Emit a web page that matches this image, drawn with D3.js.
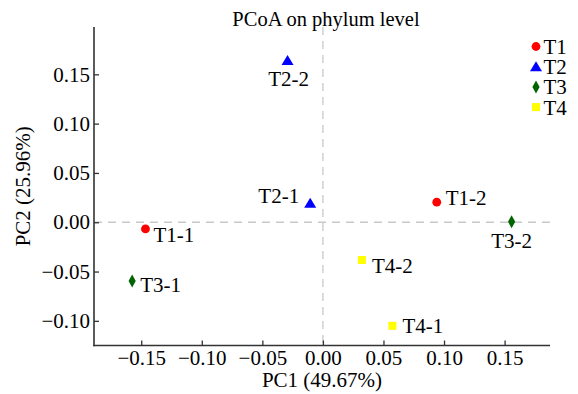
<!DOCTYPE html>
<html><head><meta charset="utf-8">
<script src="https://cdn.jsdelivr.net/npm/d3@7"></script>
<style>body{margin:0;background:#fff}svg{display:block}</style>
</head><body><div id="chart"></div>
<script>
const samples = ["T1-1","T1-2","T2-1","T2-2","T3-1","T3-2","T4-1","T4-2"];
const groupOf = ["T1","T1","T2","T2","T3","T3","T4","T4"];
const pc1 = [-0.1465, 0.094, -0.0105, -0.0292, -0.1575, 0.1558, 0.0574, 0.0322];
const pc2 = [-0.0068, 0.0203, 0.0193, 0.164, -0.0595, 0.0006, -0.105, -0.0383];
const groups = ["T1","T2","T3","T4"];
const groupColors = ["#ff0000","#0000ff","#006400","#ffff00"];
const xTicks = [-0.15,-0.10,-0.05,0.00,0.05,0.10,0.15];
const yTicks = [-0.10,-0.05,0.00,0.05,0.10,0.15];
const xDomain = [-0.189, 0.1875];
const yDomain = [-0.125, 0.198];
const title = "PCoA on phylum level";
const xLabel = "PC1 (49.67%)";
const yLabel = "PC2 (25.96%)";
// label placement relative to point: [dx, dy, anchor]
const labelPos = {
  "T1-1":[8,13,"start"], "T1-2":[9,3,"start"], "T2-1":[-11,0,"end"], "T2-2":[1,25,"middle"],
  "T3-1":[8,11,"start"], "T3-2":[0,26,"middle"], "T4-1":[10,7,"start"], "T4-2":[10,13,"start"]
};

const FONT='"Liberation Serif"';
const W=578,H=394, L=94, R=550, T=27, B=345.5;
const fs=21;
const svg=d3.select("#chart").append("svg").attr("width",W).attr("height",H);
const x=d3.scaleLinear().domain(xDomain).range([L,R]);
const y=d3.scaleLinear().domain(yDomain).range([B,T]);
const color=d3.scaleOrdinal().domain(groups).range(groupColors);
function marker(g,grp){
  const c=color(grp);
  if(grp==="T1") return g.append("circle").attr("r",4.4).attr("fill",c);
  if(grp==="T2") return g.append("path").attr("d","M0,-5.5L6,4.5L-6,4.5Z").attr("fill",c);
  if(grp==="T3") return g.append("path").attr("d","M0,-6.5L3.6,0L0,6.5L-3.6,0Z").attr("fill",c);
  return g.append("rect").attr("x",-4).attr("y",-4).attr("width",8).attr("height",8).attr("fill",c);
}
function txt(sel,size){return sel.attr("font-family",FONT).attr("font-size",size).style("font-family",FONT).style("font-size",size+"px").style("fill","#000");}

// dashed zero lines
svg.append("line").attr("x1",L).attr("x2",R).attr("y1",y(0)).attr("y2",y(0))
  .attr("stroke","#c8c8c8").attr("stroke-width",1.3).attr("stroke-dasharray","8,6");
svg.append("line").attr("x1",x(0)).attr("x2",x(0)).attr("y1",T).attr("y2",B)
  .attr("stroke","#c8c8c8").attr("stroke-width",1.3).attr("stroke-dasharray","8,6");

// axes
const fmt=d3.format(".2f");
const xa=svg.append("g").attr("transform",`translate(0,${B})`)
  .call(d3.axisBottom(x).tickValues(xTicks).tickFormat(fmt).tickSizeInner(-5).tickSizeOuter(0).tickPadding(5));
const ya=svg.append("g").attr("transform",`translate(${L},0)`)
  .call(d3.axisLeft(y).tickValues(yTicks).tickFormat(fmt).tickSizeInner(-5).tickSizeOuter(0).tickPadding(4));
[xa,ya].forEach(a=>{
  a.attr("font-family",FONT).attr("font-size",fs);
  a.select(".domain").attr("stroke","#333").attr("stroke-width",1.6);
  a.selectAll(".tick line").attr("stroke","#333").attr("stroke-width",1.3);
  txt(a.selectAll(".tick text"),fs);
});
ya.select(".domain").attr("d",`M0,${B+0.8}V${T}`);
xa.select(".domain").attr("d",`M${L-0.8},0H${R}`);
xa.selectAll(".tick text").attr("dy","0.71em").attr("y",5);

// points and sample labels
samples.forEach((s,i)=>{
  const g=svg.append("g").attr("transform",`translate(${x(pc1[i])},${y(pc2[i])})`);
  marker(g,groupOf[i]);
  const p=labelPos[s];
  txt(g.append("text").attr("x",p[0]).attr("y",p[1]).attr("text-anchor",p[2]),fs).text(s);
});

// title and axis labels
txt(svg.append("text").attr("x",326).attr("y",26).attr("text-anchor","middle"),20.5).text(title);
txt(svg.append("text").attr("x",(L+R)/2).attr("y",387).attr("text-anchor","middle"),fs).text(xLabel);
txt(svg.append("text").attr("transform",`translate(30,${(T+B)/2}) rotate(-90)`).attr("text-anchor","middle"),fs).text(yLabel);

// legend
groups.forEach((g,i)=>{
  const cy=46.5+i*20.2;
  const lg=svg.append("g").attr("transform",`translate(536,${cy})`);
  marker(lg,g);
  txt(lg.append("text").attr("x",7.5).attr("y",7.5),fs).text(g);
});
</script></body></html>
